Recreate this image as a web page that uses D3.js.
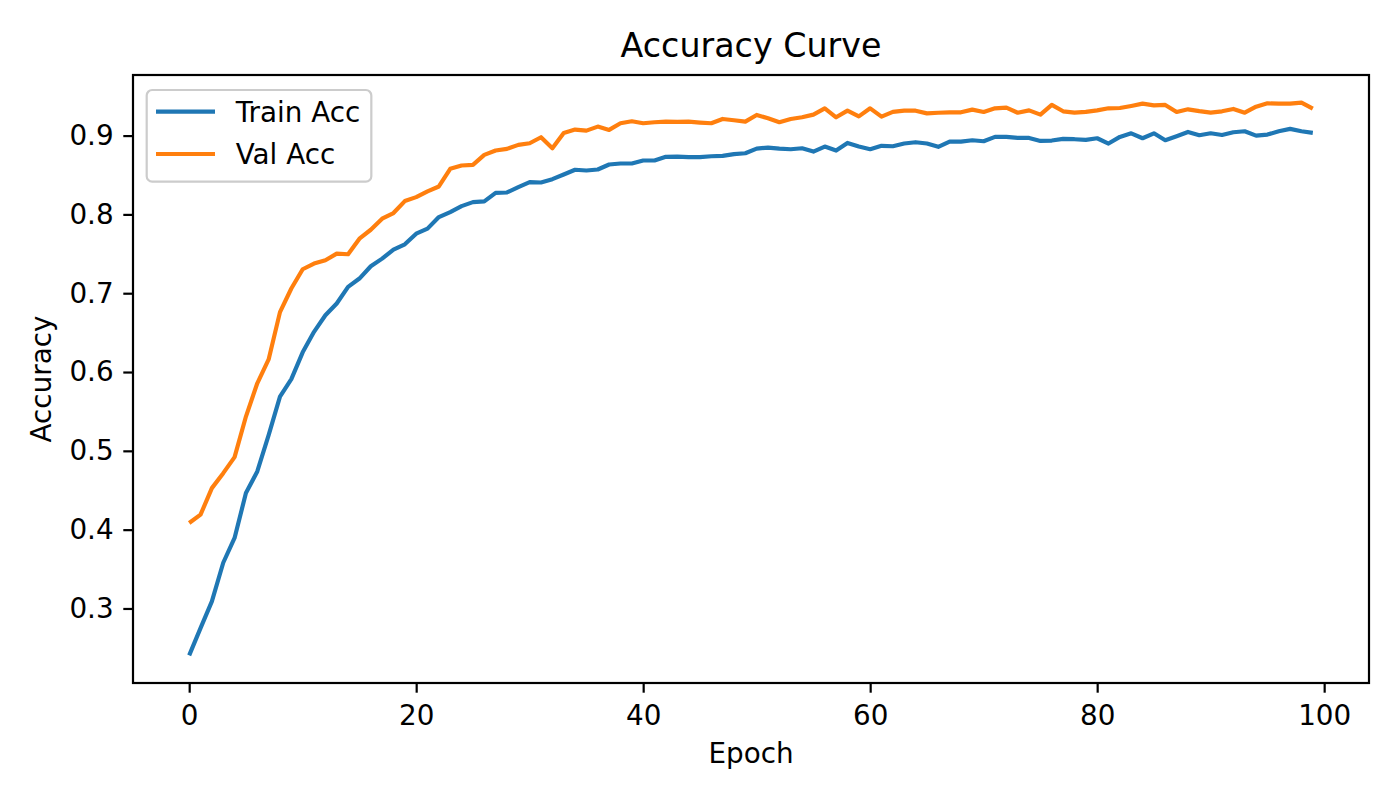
<!DOCTYPE html>
<html>
<head>
<meta charset="utf-8">
<script src="https://cdn.jsdelivr.net/npm/d3@7"></script>
<style>
  html, body { margin: 0; padding: 0; background: #fff; }
  svg { display: block; font-family: "DejaVu Sans", sans-serif; }
</style>
</head>
<body>
<svg id="chart" width="1400" height="800"></svg>
<script>
const epochs = d3.range(0, 100);
const trainAcc = [
  0.2405, 0.275, 0.309, 0.358, 0.3895, 0.4464, 0.4738, 0.52, 0.5688, 0.591,
  0.625, 0.651, 0.672, 0.687, 0.708, 0.7186, 0.7342, 0.7439, 0.7553, 0.762,
  0.7755, 0.7819, 0.7966, 0.803, 0.8105, 0.8156, 0.8165, 0.8274, 0.8278, 0.8346,
  0.8409, 0.8405, 0.8447, 0.8506, 0.8566, 0.8557, 0.857, 0.8633, 0.8646, 0.8646,
  0.8684, 0.8684, 0.873, 0.8734, 0.8726, 0.8726, 0.8738, 0.8743, 0.8765, 0.8776,
  0.8835, 0.8848, 0.8835, 0.8827, 0.8839, 0.8797, 0.8861, 0.881, 0.8907, 0.8861,
  0.8827, 0.887, 0.8865, 0.8899, 0.8916, 0.8899, 0.8857, 0.8924, 0.8924, 0.8941,
  0.8928, 0.8983, 0.8983, 0.897, 0.897, 0.8932, 0.8937, 0.8958, 0.8954, 0.8945,
  0.8966, 0.8899, 0.8983, 0.9029, 0.8966, 0.9029, 0.8941, 0.8992, 0.9046, 0.9004,
  0.9029, 0.9008, 0.9042, 0.9055, 0.9, 0.9013, 0.9055, 0.9085, 0.9055, 0.9034
];
const valAcc = [
  0.4085, 0.419, 0.4527, 0.4717, 0.492, 0.5435, 0.5857, 0.616, 0.676, 0.706,
  0.7304, 0.7376, 0.7418, 0.7502, 0.7494, 0.7692, 0.7805, 0.7945, 0.8017, 0.8169,
  0.8219, 0.8293, 0.8354, 0.8578, 0.862, 0.8629, 0.8755, 0.881, 0.8831, 0.8882,
  0.8903, 0.8979, 0.884, 0.9034, 0.9076, 0.9063, 0.9114, 0.9072, 0.9156, 0.9181,
  0.9156, 0.9169, 0.9177, 0.9173, 0.9177, 0.9165, 0.9156, 0.9211, 0.9195, 0.9177,
  0.9262, 0.922, 0.9169, 0.9211, 0.9232, 0.9266, 0.9346, 0.9232, 0.9316, 0.9244,
  0.9346, 0.924, 0.93, 0.9316, 0.9316, 0.9282, 0.929, 0.9295, 0.9295, 0.9329,
  0.93, 0.9346, 0.9354, 0.929, 0.932, 0.9266, 0.9389, 0.9308, 0.9291, 0.93,
  0.932, 0.9346, 0.935, 0.9376, 0.9405, 0.9384, 0.9389, 0.93, 0.9333, 0.931,
  0.9291, 0.9308, 0.9338, 0.9291, 0.9367, 0.9409, 0.9405, 0.9405, 0.9418, 0.9342
];
const seriesNames = ["Train Acc", "Val Acc"];
const seriesColors = ["#1f77b4", "#ff7f0e"];
const xTicks = [0, 20, 40, 60, 80, 100];
const yTicks = [0.3, 0.4, 0.5, 0.6, 0.7, 0.8, 0.9];
const titleText = "Accuracy Curve";
const xLabel = "Epoch";
const yLabel = "Accuracy";

const L = 133, R = 1369, T = 75, B = 683;
const fs = 27.8;
const tickLen = 9.7, tickPad = 9.7;

const svg = d3.select("#chart");

// scales with matplotlib-like 5% margins
const xExt = d3.extent(epochs);
const xm = (xExt[1] - xExt[0]) * 0.05;
const x = d3.scaleLinear().domain([xExt[0] - xm, xExt[1] + xm]).range([L, R]);
const allY = trainAcc.concat(valAcc);
const yExt = d3.extent(allY);
const ym = (yExt[1] - yExt[0]) * 0.05;
const y = d3.scaleLinear().domain([yExt[0] - ym, yExt[1] + ym]).range([B, T]);

// lines
const series = [trainAcc, valAcc];
const line = d3.line().x((d, i) => x(epochs[i])).y(d => y(d));
svg.append("g")
  .selectAll("path").data(series).join("path")
  .attr("d", d => line(d))
  .attr("fill", "none")
  .attr("stroke", (d, i) => seriesColors[i])
  .attr("stroke-width", 4.17)
  .attr("stroke-linejoin", "round")
  .attr("stroke-linecap", "butt");

// axes
const xAxis = d3.axisBottom(x).tickValues(xTicks).tickFormat(d3.format("d"))
  .tickSize(tickLen).tickPadding(tickPad);
const gx = svg.append("g").attr("transform", `translate(0,${B})`).call(xAxis);
const yAxis = d3.axisLeft(y).tickValues(yTicks).tickFormat(d3.format(".1f"))
  .tickSize(tickLen).tickPadding(tickPad);
const gy = svg.append("g").attr("transform", `translate(${L},0)`).call(yAxis);
[gx, gy].forEach(g => {
  g.select(".domain").remove();
  g.selectAll(".tick line").attr("stroke", "#000").attr("stroke-width", 2.2);
  g.selectAll(".tick text").attr("fill", "#000")
    .style("font-family", "'DejaVu Sans', sans-serif").style("font-size", fs + "px");
});
gx.selectAll(".tick text").attr("dy", "0.81em");

// spines
svg.append("rect").attr("x", L).attr("y", T).attr("width", R - L).attr("height", B - T)
  .attr("fill", "none").attr("stroke", "#000").attr("stroke-width", 2.2);

// title and labels
svg.append("text").attr("x", (L + R) / 2).attr("y", 57.3)
  .attr("text-anchor", "middle").style("font-size", "33.3px").attr("fill", "#000")
  .text(titleText);
svg.append("text").attr("x", (L + R) / 2).attr("y", 763.3)
  .attr("text-anchor", "middle").style("font-size", fs + "px").attr("fill", "#000")
  .text(xLabel);
svg.append("text").attr("transform", `translate(51,${(T + B) / 2}) rotate(-90)`)
  .attr("text-anchor", "middle").style("font-size", fs + "px").attr("fill", "#000")
  .text(yLabel);

// legend
const lg = svg.append("g");
const box = lg.append("rect").attr("x", 146.7).attr("y", 90).attr("rx", 5.5).attr("ry", 5.5)
  .attr("height", 91.7)
  .attr("fill", "#fff").attr("fill-opacity", 0.8)
  .attr("stroke", "#cccccc").attr("stroke-width", 2.2);
let maxW = 0;
seriesNames.forEach((name, i) => {
  const cy = 111.7 + i * 42.3;
  lg.append("line").attr("x1", 156).attr("x2", 215).attr("y1", cy).attr("y2", cy)
    .attr("stroke", seriesColors[i]).attr("stroke-width", 4.17);
  const t = lg.append("text").attr("x", 235.7).attr("y", cy + 9.8)
    .style("font-size", fs + "px").attr("fill", "#000").text(name);
  maxW = Math.max(maxW, t.node().getComputedTextLength());
});
box.attr("width", 235.7 + maxW + 11 - 146.7);
</script>
</body>
</html>
